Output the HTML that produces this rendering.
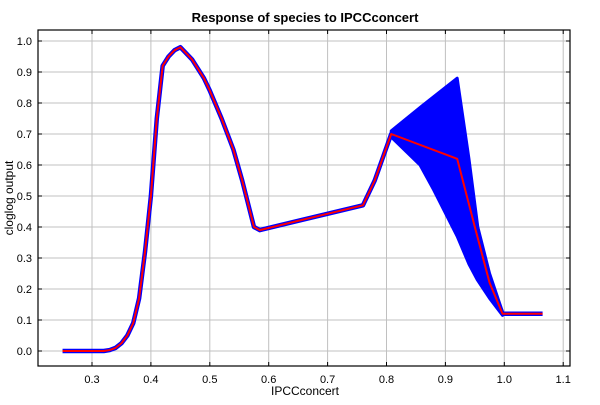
<!DOCTYPE html>
<html><head><meta charset="utf-8"><style>
body{margin:0;background:#fff;width:600px;height:400px;overflow:hidden}
text{font-family:"Liberation Sans",sans-serif}
</style></head><body>
<svg id="chart" width="600" height="400" xmlns="http://www.w3.org/2000/svg">
<text x="305" y="22" text-anchor="middle" font-size="13" font-weight="bold">Response of species to IPCCconcert</text>
<g id="grid"></g>
<g id="marks"></g>
<rect x="38" y="30" width="532" height="336" fill="none" stroke="#000" stroke-width="1.2"/>
<g id="ticks"></g>
<text x="305" y="395" text-anchor="middle" font-size="12">IPCCconcert</text>
<text transform="translate(13,198) rotate(-90)" text-anchor="middle" font-size="12">cloglog output</text>
</svg>
<script>
const xTicks=[0.3,0.4,0.5,0.6,0.7,0.8,0.9,1.0,1.1];
const yTicks=[0.0,0.1,0.2,0.3,0.4,0.5,0.6,0.7,0.8,0.9,1.0];
const meanX=[0.25,0.32,0.33,0.34,0.35,0.36,0.37,0.38,0.39,0.40,0.41,0.42,0.43,0.44,0.45,0.47,0.49,0.50,0.52,0.53,0.54,0.555,0.575,0.585,0.65,0.76,0.78,0.808,0.92,0.95,0.975,0.997,1.065];
const meanY=[0,0,0.003,0.01,0.025,0.05,0.09,0.17,0.32,0.5,0.75,0.92,0.95,0.97,0.98,0.94,0.88,0.84,0.75,0.70,0.65,0.55,0.40,0.39,0.42,0.47,0.55,0.70,0.62,0.40,0.22,0.12,0.12];
const upperX=[0.808,0.86,0.92,0.94,0.955,0.975,0.997];
const upperY=[0.71,0.79,0.88,0.62,0.40,0.25,0.126];
const lowerX=[0.808,0.857,0.88,0.92,0.94,0.954,0.975,0.997];
const lowerY=[0.69,0.60,0.52,0.37,0.28,0.23,0.17,0.115];
const X=v=>92+(v-0.3)*589, Y=v=>351-v*310;
const NS="http://www.w3.org/2000/svg";
function mk(t,a,p){const e=document.createElementNS(NS,t);for(const k in a)e.setAttribute(k,a[k]);p.appendChild(e);return e;}
const g=document.getElementById('grid'),tk=document.getElementById('ticks'),m=document.getElementById('marks');
xTicks.forEach(v=>{
 const l=mk('line',{x1:X(v),x2:X(v),y1:30,y2:366,stroke:'#c0c0c0','stroke-width':1},g);
 
 
 const t=mk('text',{x:X(v),y:383,'text-anchor':'middle','font-size':11},tk);t.textContent=v.toFixed(1);
 
 
 mk('line',{x1:X(v),x2:X(v),y1:366,y2:362,stroke:'#000'},tk);
 mk('line',{x1:X(v),x2:X(v),y1:30,y2:34,stroke:'#000'},tk);
});
yTicks.forEach(v=>{
 const l=mk('line',{x1:38,x2:570,y1:Y(v),y2:Y(v),stroke:'#c0c0c0','stroke-width':1},g);
 
 
 const t=mk('text',{x:32,y:Y(v)+4,'text-anchor':'end','font-size':11},tk);t.textContent=v.toFixed(1);
 
 
 mk('line',{x1:38,x2:42,y1:Y(v),y2:Y(v),stroke:'#000'},tk);
 mk('line',{x1:566,x2:570,y1:Y(v),y2:Y(v),stroke:'#000'},tk);
});
const pts=(xs,ys)=>xs.map((x,i)=>X(x)+','+Y(ys[i])).join(' ');
const env=mk('polygon',{points:pts(upperX,upperY)+' '+pts(lowerX.slice().reverse(),lowerY.slice().reverse()),fill:'#0000ff',stroke:'#0000ff','stroke-width':3,'stroke-linejoin':'round'},m);


const blue=mk('polyline',{points:pts(meanX,meanY),fill:'none',stroke:'#0000ff','stroke-width':4.5,'stroke-linejoin':'round'},m);


const red=mk('polyline',{points:pts(meanX,meanY),fill:'none',stroke:'#ff0000','stroke-width':2,'stroke-linejoin':'round'},m);


</script>
</body></html>
